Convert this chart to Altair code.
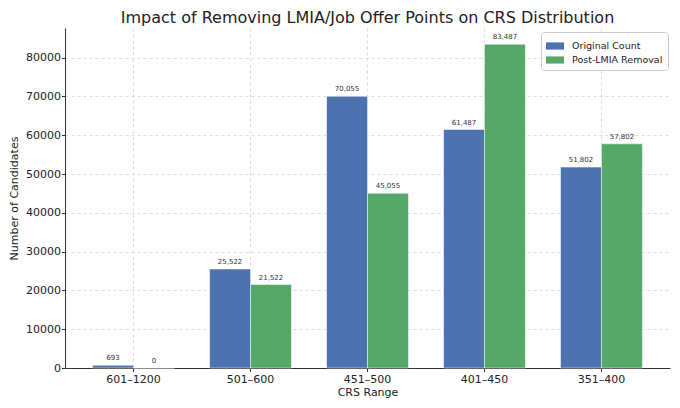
import altair as alt
import pandas as pd

ranges = ["601–1200", "501–600", "451–500", "401–450", "351–400"]
original = [693, 25522, 70055, 61487, 51802]
post_lmia = [0, 21522, 45055, 83487, 57802]
series = ["Original Count", "Post-LMIA Removal"]
colors = ["#4C72B0", "#55A868"]

rows = []
for r, a, b in zip(ranges, original, post_lmia):
    rows.append({"range": r, "series": series[0], "count": a})
    rows.append({"range": r, "series": series[1], "count": b})
df = pd.DataFrame(rows)

FONT = "DejaVu Sans"

x = alt.X("range:N", sort=ranges, title="CRS Range",
          scale=alt.Scale(paddingInner=0, paddingOuter=0.086),
          axis=alt.Axis(labelAngle=0, grid=True, gridDash=[3, 3], gridColor="#dddddd",
                        tickSize=3.5, labelPadding=2, titlePadding=2))
xo = alt.XOffset("series:N", sort=series,
                 scale=alt.Scale(paddingInner=0, paddingOuter=0.4286))
y = alt.Y("count:Q", title="Number of Candidates",
          scale=alt.Scale(domain=[0, 87661], nice=False),
          axis=alt.Axis(values=list(range(0, 80001, 10000)), format="d", grid=True,
                        gridDash=[3, 3], gridColor="#dddddd", tickSize=3.5,
                        labelPadding=1, titlePadding=6))

base = alt.Chart(df)

bars = base.mark_bar(stroke="white", strokeWidth=0.5).encode(
    x=x, xOffset=xo, y=y,
    color=alt.Color("series:N", sort=series, title=None,
                    scale=alt.Scale(domain=series, range=colors),
                    legend=alt.Legend(orient="none", legendX=476, legendY=4,
                                      symbolType="M-1,-0.4H1V0.4H-1Z", symbolSize=324,
                                      symbolStrokeWidth=0, labelFontSize=9.5,
                                      labelColor="#222222", fillColor="white",
                                      strokeColor="#cccccc", padding=5,
                                      cornerRadius=3, rowPadding=-5, labelOffset=8)),
)

labels = base.mark_text(baseline="bottom", dy=-4, fontSize=7, color="#333333",
                        font=FONT).encode(
    x=x, xOffset=xo, y=y,
    text=alt.Text("count:Q", format=","),
)

chart = (alt.layer(bars, labels)
         .properties(width=605, height=340, autosize="none",
                     padding={"left": 57, "top": 20, "right": 2, "bottom": 32},
                     title=alt.TitleParams("Impact of Removing LMIA/Job Offer Points on CRS Distribution",
                                           fontSize=16, font=FONT, fontWeight="normal",
                                           color="#222222", offset=2))
         .configure_view(strokeWidth=0)
         .configure_axis(labelFont=FONT, titleFont=FONT, labelFontSize=11,
                         titleFontSize=11, titleFontWeight="normal",
                         labelColor="#222222", titleColor="#222222",
                         domainColor="#333333", tickColor="#333333")
         .configure_legend(labelFont=FONT))

chart.save("out.html", embed_options={"renderer": "svg", "actions": False})
